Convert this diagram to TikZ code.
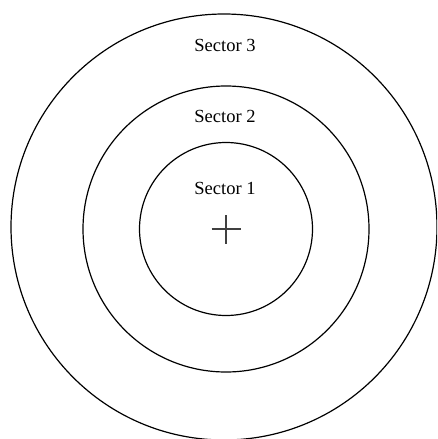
\documentclass[tikz,border=0pt]{standalone}
\usepackage{fontspec}
\setmainfont{Liberation Serif}
\tikzset{
  ring/.style={draw, circle, inner sep=0pt, line width=1.2pt},
  sectorlabel/.style={inner sep=0pt, font=\fontsize{18.5}{20}\selectfont}
}
\begin{document}
\begin{tikzpicture}[x=1pt, y=-1pt]
  \useasboundingbox (0,0) rectangle (437,439);
  \clip (0,0) rectangle (437,439);
  \coordinate (ctr) at (226,229);
  \node[ring, minimum size=426pt] (S3) at (224,227) {};
  \node[ring, minimum size=286pt] (S2) at (ctr) {};
  \node[ring, minimum size=173pt] (S1) at (ctr) {};
  \node[sectorlabel] (L3) at (225,45.5) {Sector 3};
  \node[sectorlabel] (L2) at (225,116.7) {Sector 2};
  \node[sectorlabel] (L1) at (225,188.3) {Sector 1};
  % cross at the centre
  \draw[line width=1.3pt, black!75] ([xshift=-14.5pt]ctr) -- ([xshift=14.5pt]ctr);
  \draw[line width=1.3pt, black!75] ([yshift=-14.5pt]ctr) -- ([yshift=14.5pt]ctr);
\end{tikzpicture}
\end{document}
